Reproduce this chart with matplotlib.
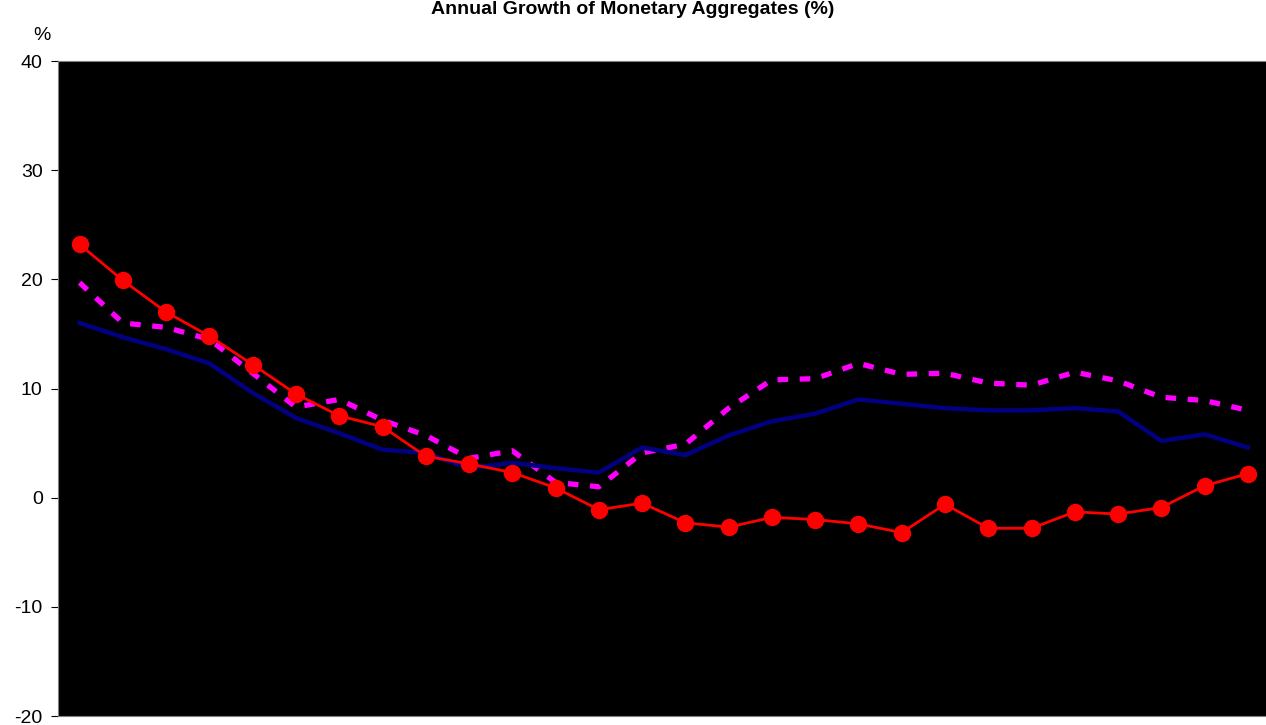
import matplotlib.pyplot as plt

plt.rcParams['font.family'] = ['Liberation Sans', 'DejaVu Sans']
plt.rcParams['axes.unicode_minus'] = False

# annual growth, %, 28 periods (no x labels shown on the chart)
periods = list(range(28))
red_series = [23.2, 19.9, 17.0, 14.8, 12.2, 9.5, 7.5, 6.5, 3.8, 3.1, 2.3, 0.9, -1.1, -0.5,
              -2.3, -2.7, -1.8, -2.0, -2.4, -3.2, -0.6, -2.8, -2.8, -1.3, -1.5, -0.9, 1.1, 2.2]
magenta_series = [19.7, 16.0, 15.6, 14.5, 11.4, 8.3, 9.0, 7.1, 5.7, 3.6, 4.3, 1.4, 1.0, 4.1,
                  4.9, 8.2, 10.8, 10.9, 12.3, 11.3, 11.4, 10.5, 10.3, 11.5, 10.7, 9.2, 8.9, 8.0]
navy_series = [16.0, 14.7, 13.6, 12.3, 9.6, 7.3, 5.9, 4.4, 4.1, 2.7, 3.2, 2.7, 2.3, 4.6,
               3.9, 5.7, 7.0, 7.7, 9.0, 8.6, 8.2, 8.0, 8.0, 8.2, 7.9, 5.2, 5.8, 4.6]
y_ticks = [-20, -10, 0, 10, 20, 30, 40]

fig = plt.figure(figsize=(12.66, 7.25), dpi=100)
ax = fig.add_axes([0.0458, 0.0124, 0.957, 0.9034])
ax.set_facecolor('black')

ax.plot(periods, magenta_series, color='#FF00FF', linewidth=3.8, linestyle=(0, (2.0, 2.2)))
ax.plot(periods, navy_series, color='#000080', linewidth=3.2)
ax.plot(periods, red_series, color='#FF0000', linewidth=2, marker='o', markersize=11.5)

ax.set_xlim(-0.5, 27.5)
ax.set_ylim(-20, 40)
ax.set_yticks(y_ticks)
ax.set_xticks([])
ax.tick_params(axis='y', labelsize=14, length=5, color='black', pad=6)
for s in ax.spines.values():
    s.set_color('#808080')

fig.text(0.033, 0.951, '%', fontsize=14, ha='center', va='center')
fig.text(0.50, 0.999, 'Annual Growth of Monetary Aggregates (%)', fontsize=14,
         fontweight='bold', ha='center', va='top')

fig.savefig('out.png', dpi=100)
